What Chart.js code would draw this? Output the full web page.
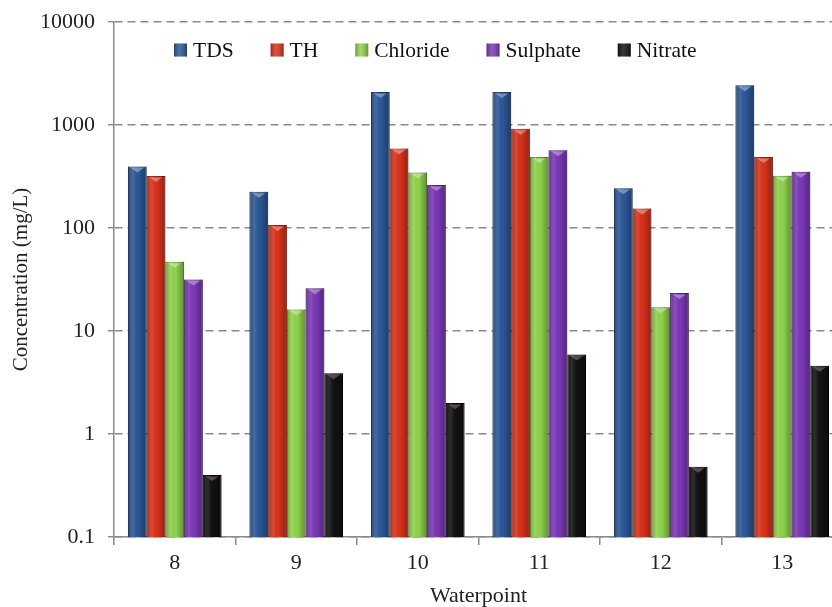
<!DOCTYPE html>
<html>
<head>
<meta charset="utf-8">
<script src="https://cdn.jsdelivr.net/npm/chart.js@4/dist/chart.umd.min.js"></script>
<style>
  html, body { margin: 0; padding: 0; background: #fff; overflow: hidden; }
  #wrap { position: relative; width: 843px; height: 607px; }
</style>
</head>
<body>
<div id="wrap"><canvas id="c"></canvas></div>
<script>
// Waterpoints and measured concentrations (mg/L)
const waterpoints = ['8', '9', '10', '11', '12', '13'];
const tds       = [395, 225, 2090, 2090, 243, 2430];
const th        = [320, 107, 592, 920, 155, 490];
const chloride  = [47, 16.2, 346, 490, 17, 322];
const sulphate  = [31.6, 26, 262, 570, 23.4, 352];
const nitrate   = [0.4, 3.9, 2.0, 5.9, 0.48, 4.6];
const yTicks    = [0.1, 1, 10, 100, 1000, 10000];

const seriesNames  = ['TDS', 'TH', 'Chloride', 'Sulphate', 'Nitrate'];
const seriesValues = [tds, th, chloride, sulphate, nitrate];
const fills   = ['#2c5797', '#d8321b', '#8fd24c', '#7b38b6', '#111111'];
const borders = ['#1d3d6c', '#9c2010', '#5f9a2c', '#55207f', '#000000'];

const SERIF = '"Liberation Serif", "DejaVu Serif", serif';

// Shading pass: gives each bar a rounded, bevelled look
const bevel = {
  id: 'bevel',
  afterDatasetsDraw(chart) {
    const ctx = chart.ctx;
    const area = chart.chartArea;
    ctx.save();
    ctx.beginPath();
    ctx.rect(area.left, area.top, area.right - area.left, area.bottom - area.top);
    ctx.clip();
    chart.data.datasets.forEach((ds, di) => {
      const meta = chart.getDatasetMeta(di);
      meta.data.forEach(bar => {
        const { x, y, base, width } = bar.getProps(['x', 'y', 'base', 'width'], true);
        const l = x - width / 2, r = x + width / 2;
        const g = ctx.createLinearGradient(l, 0, r, 0);
        g.addColorStop(0, 'rgba(0,0,0,0.28)');
        g.addColorStop(0.3, 'rgba(255,255,255,0.10)');
        g.addColorStop(0.55, 'rgba(0,0,0,0)');
        g.addColorStop(1, 'rgba(0,0,0,0.32)');
        ctx.fillStyle = g;
        ctx.fillRect(l, y, width, base - y);
        // small highlight chevron at the top of the bar
        ctx.beginPath();
        ctx.moveTo(l + 3, y + 1.5);
        ctx.lineTo(r - 3, y + 1.5);
        ctx.lineTo(x, y + 6);
        ctx.closePath();
        ctx.fillStyle = di === 4 ? 'rgba(150,110,150,0.55)' : 'rgba(255,255,255,0.35)';
        ctx.fill();
      });
    });
    ctx.restore();
  }
};

// Legend row drawn inside the plot area
const insideLegend = {
  id: 'insideLegend',
  afterDraw(chart) {
    const ctx = chart.ctx;
    const area = chart.chartArea;
    let x = area.left + 60;
    const yc = area.top + 28;
    ctx.save();
    ctx.font = '21.5px ' + SERIF;
    ctx.textBaseline = 'middle';
    chart.data.datasets.forEach((ds, i) => {
      const box = 13;
      ctx.fillStyle = ds.backgroundColor;
      ctx.fillRect(x, yc - box / 2, box, box);
      const g = ctx.createLinearGradient(x, 0, x + box, 0);
      g.addColorStop(0, 'rgba(0,0,0,0.25)');
      g.addColorStop(0.4, 'rgba(255,255,255,0.15)');
      g.addColorStop(1, 'rgba(0,0,0,0.3)');
      ctx.fillStyle = g;
      ctx.fillRect(x, yc - box / 2, box, box);
      ctx.fillStyle = '#111';
      ctx.fillText(ds.label, x + box + 6, yc + 1);
      x += box + 6 + ctx.measureText(ds.label).width + 37;
    });
    ctx.restore();
  }
};

new Chart(document.getElementById('c'), {
  type: 'bar',
  data: {
    labels: waterpoints,
    datasets: seriesNames.map((name, i) => ({
      label: name,
      data: seriesValues[i],
      backgroundColor: fills[i],
      borderColor: borders[i],
      borderWidth: 1,
      categoryPercentage: 0.77,
      barPercentage: 1.0
    }))
  },
  options: {
    responsive: true,
    maintainAspectRatio: false,
    animation: false,
    layout: { padding: { top: 8, right: 0, left: 0, bottom: 0 } },
    plugins: {
      legend: { display: false },
      tooltip: { enabled: false }
    },
    scales: {
      x: {
        offset: true,
        grid: { display: true, drawOnChartArea: false, offset: true, tickLength: 8, color: '#8a8a8a', lineWidth: 1.5 },
        border: { color: '#8a8a8a', width: 1.5 },
        ticks: { color: '#222', font: { family: SERIF, size: 22 }, padding: 5 },
        title: { display: true, text: 'Waterpoint', color: '#222', font: { family: SERIF, size: 22, lineHeight: 1 }, padding: { top: 0, bottom: 0 } },
        afterFit(scale) { scale.height = 70; }
      },
      y: {
        type: 'logarithmic',
        min: 0.1,
        max: 10000,
        afterBuildTicks(scale) { scale.ticks = yTicks.map(v => ({ value: v })); },
        grid: { color: '#8a8a8a', lineWidth: 1.4, tickLength: 6, tickBorderDash: [] },
        border: { color: '#8a8a8a', width: 1.5, dash: [8, 5] },
        ticks: {
          color: '#222',
          font: { family: SERIF, size: 22, lineHeight: 0.82 },
          padding: 13,
          callback: v => String(v)
        },
        title: { display: true, text: 'Concentration (mg/L)', color: '#222', font: { family: SERIF, size: 21, lineHeight: 1.2 }, padding: { top: 9, bottom: 0 } },
        afterFit(scale) { scale.width = 114; }
      }
    }
  },
  plugins: [bevel, insideLegend]
});
</script>
</body>
</html>
